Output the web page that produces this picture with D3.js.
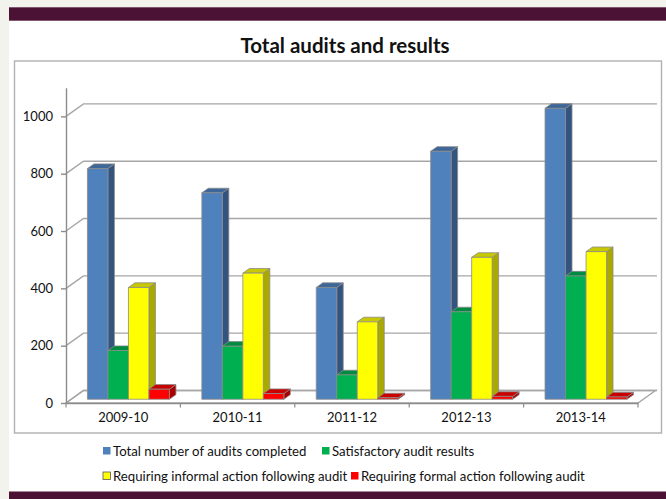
<!DOCTYPE html>
<html>
<head>
<meta charset="utf-8">
<script src="https://cdn.jsdelivr.net/npm/d3@7"></script>
<style>
  html, body { margin: 0; padding: 0; background: #f3f3ee; }
  svg { display: block; }
  text { font-family: Lato, "Open Sans", sans-serif; fill: #111; }
</style>
</head>
<body>
<svg id="chart" width="666" height="499"></svg>
<script>
// Audit counts per financial year
const categories = ["2009-10", "2010-11", "2011-12", "2012-13", "2013-14"];
const seriesNames = [
  "Total number of audits completed",
  "Satisfactory audit results",
  "Requiring informal action following audit",
  "Requiring formal action following audit"
];
const totalAudits     = [805, 720, 390, 865, 1015];
const satisfactory    = [170, 185, 85, 305, 430];
const informalAction  = [390, 440, 270, 495, 515];
const formalAction    = [35, 20, 5, 10, 8];
const yTicks = [0, 200, 400, 600, 800, 1000];

const seriesValues = [totalAudits, satisfactory, informalAction, formalAction];
const frontColors = ["#4f81bd", "#00b050", "#ffff00", "#ff0000"];
const sideColors  = ["#32547f", "#007836", "#a9a900", "#a80000"];
const topColors   = ["#3d6699", "#008c40", "#c8c800", "#c80000"];

const svg = d3.select("#chart");

// page furniture: white panel with maroon bands
svg.append("rect").attr("x", 9).attr("y", 0).attr("width", 657).attr("height", 499).attr("fill", "#ffffff");
svg.append("rect").attr("x", 9).attr("y", 0).attr("width", 657).attr("height", 7.3).attr("fill", "#f3f3ee");
svg.append("rect").attr("x", 9).attr("y", 7.3).attr("width", 657).attr("height", 13.4).attr("fill", "#4b1236");
svg.append("rect").attr("x", 9).attr("y", 491.5).attr("width", 657).attr("height", 7.5).attr("fill", "#4b1236");

// title
svg.append("text")
  .attr("x", 345).attr("y", 52.5)
  .attr("text-anchor", "middle")
  .style("font-size", "20.5px").style("font-weight", "bold")
  .text("Total audits and results");

// chart frame
svg.append("rect")
  .attr("x", 14.5).attr("y", 61).attr("width", 647).attr("height", 372)
  .attr("fill", "none").attr("stroke", "#b0b0b0").attr("stroke-width", 1.4);

// scales
const x = d3.scaleBand().domain(categories).range([66, 638]).paddingInner(0).paddingOuter(0);
const inner = d3.scaleBand().domain(d3.range(seriesNames.length)).range([0, x.bandwidth()])
  .paddingInner(0).paddingOuter(0.79);
const y = d3.scaleLinear().domain([0, 1100]).range([403, 87.7]);

// depth of the 3D box
const DX = 17.5, DY = 12.5;
const z0 = 0.3, z1 = 0.67;
const proj = (xf, v, z) => [xf + z * DX, y(v) - z * DY];
const poly = pts => "M" + pts.map(p => p.join(",")).join("L") + "Z";

const grid = svg.append("g");
// floor
grid.append("path")
  .attr("d", poly([proj(66, 0, 0), proj(638, 0, 0), proj(638, 0, 1), proj(66, 0, 1)]))
  .attr("fill", "#ffffff").attr("stroke", "#a6a6a6").attr("stroke-width", 1.4);
// gridlines on side wall and back wall
yTicks.forEach(t => {
  const a = proj(66, t, 0), b = proj(66, t, 1), c = [657, b[1]];
  grid.append("path")
    .attr("d", "M" + a.join(",") + "L" + b.join(",") + "L" + c.join(","))
    .attr("fill", "none").attr("stroke", "#a6a6a6").attr("stroke-width", 1.4);
});

// y axis
const yAxis = svg.append("g").attr("transform", "translate(66,0)")
  .call(d3.axisLeft(y).tickValues(yTicks).tickFormat(d3.format("d"))
    .tickSize(5).tickSizeOuter(0).tickPadding(8));
yAxis.select(".domain").attr("stroke", "#8c8c8c").attr("stroke-width", 1.4);
yAxis.selectAll(".tick line").attr("stroke", "#8c8c8c").attr("stroke-width", 1.4);
yAxis.selectAll(".tick text").style("font-size", "13px").style("font-family", "Lato, sans-serif").attr("fill", "#111");

// x axis: category labels and boundary ticks
const xAxis = svg.append("g").attr("transform", "translate(0,403)")
  .call(d3.axisBottom(x).tickSize(0).tickPadding(10));
xAxis.select(".domain").attr("stroke", "#8c8c8c").attr("stroke-width", 1.4);
xAxis.selectAll(".tick text").style("font-size", "13px").style("font-family", "Lato, sans-serif").attr("fill", "#111");
const bounds = categories.map(c => x(c)).concat([x(categories[categories.length - 1]) + x.bandwidth()]);
xAxis.selectAll("line.bound").data(bounds).join("line").attr("class", "bound")
  .attr("x1", d => d).attr("x2", d => d).attr("y1", 0).attr("y2", 4.5)
  .attr("stroke", "#8c8c8c").attr("stroke-width", 1.2);

// bars: each with side, top and front faces, painted left to right
const bars = svg.append("g");
categories.forEach((cat, ci) => {
  seriesValues.forEach((vals, si) => {
    const v = vals[ci];
    const xa = x(cat) + inner(si), xb = xa + inner.bandwidth();
    const g = bars.append("g").attr("stroke", "#8a8a8a").attr("stroke-width", 0.8).attr("stroke-linejoin", "round");
    g.append("path").attr("d", poly([proj(xb, 0, z0), proj(xb, v, z0), proj(xb, v, z1), proj(xb, 0, z1)]))
      .attr("fill", sideColors[si]);
    g.append("path").attr("d", poly([proj(xa, v, z0), proj(xb, v, z0), proj(xb, v, z1), proj(xa, v, z1)]))
      .attr("fill", topColors[si]);
    g.append("path").attr("d", poly([proj(xa, 0, z0), proj(xb, 0, z0), proj(xb, v, z0), proj(xa, v, z0)]))
      .attr("fill", frontColors[si]);
  });
});

// legend
const legendPos = [[103, 456], [322, 456], [103, 481], [351, 481]];
const legend = svg.append("g");
seriesNames.forEach((name, i) => {
  const [lx, ly] = legendPos[i];
  legend.append("rect").attr("x", lx).attr("y", ly - 9).attr("width", 7.5).attr("height", 7.5)
    .attr("fill", frontColors[i]).attr("stroke", i === 2 ? "#555" : "none").attr("stroke-width", 0.8);
  legend.append("text").attr("x", lx + 10).attr("y", ly)
    .style("font-size", "13.2px").text(name);
});
</script>
</body>
</html>
